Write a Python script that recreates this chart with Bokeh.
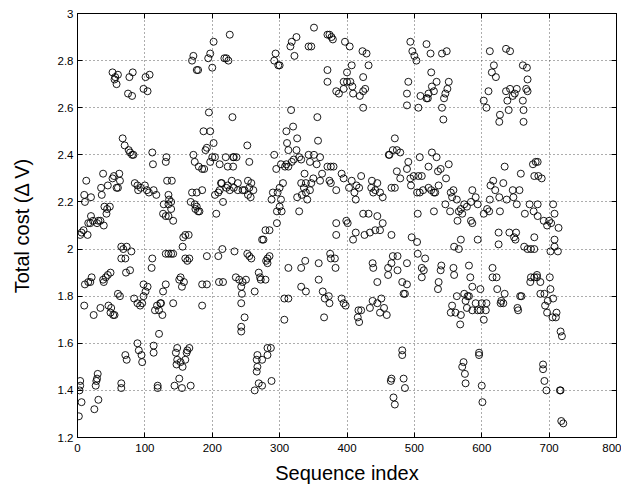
from bokeh.plotting import figure
from bokeh.models import Range1d, FixedTicker, LinearAxis, NumeralTickFormatter, CustomJSTickFormatter
from bokeh.embed import file_html
from bokeh.resources import INLINE

# ---- data (sequence index, total cost) ----
seq_index = [
    # 0 - 110
    52, 55, 56, 60, 58, 77, 82, 75, 81, 101, 107, 98, 104,
    67, 70, 76, 78, 81, 83,
    13, 38, 52, 54, 62, 63, 58, 60, 85, 89, 90, 94, 100, 103, 106,
    10, 11, 20, 35, 36, 45, 40, 44, 48, 43,
    4, 6, 9, 15, 16, 20, 23, 19, 29, 31, 34, 39,
    65, 68, 73, 80, 71, 65, 72, 78,
    11, 16, 19, 21, 38, 39, 42, 45, 49, 98, 104, 101, 60, 63, 84, 89, 93, 96, 98,
    10, 24, 34, 46, 50, 49, 53, 55,
    89, 91, 95, 96, 71, 73,
    4, 4, 3, 6, 2, 28, 27, 30, 29, 31, 25, 65, 65,
    # 110 - 250
    226, 202, 172, 170, 177, 179, 197, 194, 200, 218, 221, 224,
    195, 230, 187, 197, 190, 202, 192,
    111, 112, 132, 131, 172, 174, 180, 185, 188, 200, 197, 204, 211, 220, 223, 231, 232, 236, 231,
    133, 140, 117, 113, 128, 135, 139, 135, 136, 127, 131, 135, 139, 142, 170, 177, 185, 168, 174,
    177, 175, 181, 179, 206, 204, 209, 213, 214, 211, 216, 223, 226, 229, 232, 238, 238, 245, 248, 221,
    160, 157, 156, 165, 131, 135, 139, 142, 160, 163, 166, 192, 209, 215, 233, 111, 110,
    131, 127, 124, 118, 121, 123, 115, 126, 142, 153, 151, 155, 158, 185, 192, 185, 210, 216,
    235, 240, 245, 243, 244, 243, 248, 243, 243,
    121, 113, 113, 148, 146, 148, 147, 156, 153, 160, 163, 166, 162,
    119, 119, 144, 151, 155, 168,
    # 250 - 370
    351, 325, 318, 316, 322, 343, 347, 294, 292, 298, 300,
    317, 356, 310, 320, 326, 357, 311,
    252, 255,
    292, 313, 325, 329, 321, 318, 302, 310, 313, 295, 308, 332, 343, 351, 360, 345, 355,
    337, 350, 363, 360, 332, 339, 347, 336, 345, 339, 333, 326, 341, 329,
    305, 300, 297, 290, 288, 302, 300, 296, 303, 296, 279, 285,
    253, 258, 255, 261, 253, 257, 374, 376,
    274, 276, 252, 255, 258, 250, 263, 269, 271, 272, 279, 282, 285, 282, 280,
    307, 313, 307, 313, 332, 338, 332, 339, 358, 358, 364, 367, 373, 374, 366,
    282, 287, 282, 267, 266, 274, 267, 266, 269, 274, 263, 288,
    # 370 - 487
    371, 374, 377, 379, 397, 404, 423, 429,
    407, 400, 432, 424, 395, 400, 405, 384, 388, 395, 408, 409, 419, 424, 427, 424, 371, 371,
    471, 468, 474, 463, 479, 462,
    371, 376, 380,
    392, 395, 421, 407, 403, 414, 418, 437, 445, 436, 442, 449, 453, 439, 411, 413, 384, 466, 471, 479, 474,
    424, 432, 445, 453, 384, 399, 401,
    384, 413, 426, 434, 442, 449, 466, 409,
    375, 376, 382, 383, 438, 439, 468, 475, 461, 466, 475, 461, 482, 445, 484, 486,
    392, 395, 398, 417, 421, 416, 418, 434, 438, 445, 451, 449, 455, 459,
    482, 482, 466, 465, 484, 486, 469, 471,
    # 487 - 603
    494, 497, 500, 503, 518, 524, 541, 548,
    525, 491, 533, 551, 549, 546, 544, 541, 543, 526, 529, 521, 518, 520, 509, 506, 489, 489,
    508, 526, 533, 551, 539, 521, 535, 491, 489, 511, 494, 499, 506, 547,
    495, 504, 521, 525, 529, 536, 531, 513, 508, 554, 558, 556, 563, 586, 591, 584, 594, 574, 578,
    569, 566, 553, 546,
    571, 564, 584, 586, 505, 529,
    496, 569, 594, 504, 559, 566,
    505, 516, 511, 514, 511, 489, 489,
    540, 539, 536, 535, 558, 559, 581, 583, 586, 598,
    563, 574, 579, 576, 581, 556, 554, 561, 569, 578, 586, 591, 594, 600, 568, 598,
    596, 596, 573, 571, 575, 576, 600, 601,
    # 603 - 720
    612, 636, 642, 618, 615, 621, 661, 667, 668, 610, 636, 642, 646, 652, 649, 666, 668,
    603, 607, 638, 661, 640, 627, 626, 662, 662,
    680, 676, 683, 634, 658, 678, 684, 689,
    617, 632, 613, 620, 646, 656, 612, 626, 637, 647, 652, 671, 683, 706, 608, 611, 603, 627,
    664, 677, 708, 683, 692, 700, 703, 697, 714,
    625, 641, 651, 648, 650, 678, 708, 625,
    663, 668, 673, 678, 708, 702, 713,
    616, 616, 622, 623, 634, 629, 628, 632, 607, 606, 603, 657, 659, 653, 654,
    673, 678, 682, 672, 687, 682, 701, 702, 706, 687, 693, 698, 694, 697, 705, 710, 711, 717, 719,
    691, 691, 693, 696, 716, 717, 718, 721,
]

total_cost = [
    # 0 - 110
    2.75, 2.72, 2.73, 2.74, 2.70, 2.73, 2.75, 2.66, 2.65, 2.73, 2.74, 2.68, 2.67,
    2.47, 2.44, 2.42, 2.41, 2.40, 2.40,
    2.29, 2.32, 2.30, 2.31, 2.32, 2.29, 2.26, 2.26, 2.28, 2.27, 2.25, 2.26, 2.27, 2.25, 2.24,
    2.23, 2.20, 2.22, 2.26, 2.23, 2.27, 2.18, 2.17, 2.18, 2.15,
    2.06, 2.07, 2.08, 2.06, 2.11, 2.14, 2.12, 2.11, 2.11, 2.12, 2.12, 2.10,
    2.01, 2.00, 2.01, 1.99, 1.96, 1.96, 1.90, 1.91,
    1.85, 1.86, 1.86, 1.88, 1.87, 1.86, 1.88, 1.89, 1.90, 1.85, 1.84, 1.82, 1.81, 1.80, 1.79, 1.77, 1.76, 1.77, 1.80,
    1.76, 1.72, 1.75, 1.76, 1.75, 1.73, 1.72, 1.72,
    1.60, 1.57, 1.55, 1.52, 1.55, 1.53,
    1.44, 1.42, 1.40, 1.35, 1.29, 1.44, 1.42, 1.47, 1.45, 1.36, 1.32, 1.43, 1.41,
    # 110 - 250
    2.91, 2.88, 2.82, 2.80, 2.76, 2.76, 2.83, 2.81, 2.77, 2.81, 2.81, 2.80,
    2.58, 2.56, 2.50, 2.50, 2.42, 2.45, 2.43,
    2.41, 2.36, 2.39, 2.37, 2.40, 2.37, 2.35, 2.34, 2.34, 2.39, 2.37, 2.39, 2.36, 2.39, 2.35, 2.39, 2.39, 2.39, 2.35,
    2.29, 2.29, 2.23, 2.25, 2.19, 2.19, 2.20, 2.23, 2.21, 2.15, 2.14, 2.14, 2.17, 2.12, 2.24, 2.24, 2.25, 2.20, 2.19,
    2.18, 2.17, 2.16, 2.16, 2.15, 2.23, 2.24, 2.28, 2.28, 2.25, 2.20, 2.27, 2.25, 2.29, 2.26, 2.28, 2.25, 2.25, 2.25, 2.26,
    2.06, 2.05, 2.01, 2.06, 1.98, 1.98, 1.98, 1.98, 1.96, 1.95, 1.96, 1.97, 1.97, 2.00, 1.99, 1.96, 1.92,
    1.85, 1.82, 1.77, 1.76, 1.74, 1.77, 1.74, 1.72, 1.77, 1.88, 1.87, 1.84, 1.86, 1.85, 1.85, 1.76, 1.86, 1.86,
    1.88, 1.87, 1.86, 1.84, 1.81, 1.77, 1.71, 1.67, 1.65,
    1.64, 1.59, 1.56, 1.58, 1.56, 1.53, 1.51, 1.50, 1.52, 1.53, 1.57, 1.58, 1.56,
    1.42, 1.41, 1.42, 1.45, 1.41, 1.42,
    # 250 - 370
    2.94, 2.90, 2.88, 2.86, 2.82, 2.86, 2.86, 2.83, 2.80, 2.78, 2.78,
    2.59, 2.56, 2.50, 2.52, 2.47, 2.46, 2.45,
    2.44, 2.37,
    2.40, 2.42, 2.42, 2.39, 2.38, 2.37, 2.36, 2.36, 2.35, 2.34, 2.35, 2.38, 2.40, 2.40, 2.39, 2.37, 2.36,
    2.32, 2.30, 2.32, 2.29, 2.28, 2.28, 2.28, 2.26, 2.25, 2.24, 2.23, 2.22, 2.21, 2.16,
    2.28, 2.26, 2.24, 2.24, 2.21, 2.21, 2.18, 2.16, 2.16, 2.11, 2.08, 2.08,
    2.29, 2.28, 2.26, 2.25, 2.23, 2.22, 2.29, 2.28,
    2.04, 2.04, 1.98, 1.97, 1.96, 1.87, 1.82, 1.90, 1.88, 1.87, 1.87, 1.96, 1.97, 1.94, 1.95,
    1.79, 1.79, 1.70, 1.92, 1.92, 1.95, 1.84, 1.82, 1.94, 1.87, 1.82, 1.79, 1.80, 1.77, 1.71,
    1.58, 1.58, 1.55, 1.55, 1.53, 1.53, 1.50, 1.48, 1.43, 1.42, 1.40, 1.44,
    # 370 - 487
    2.91, 2.91, 2.90, 2.89, 2.88, 2.86, 2.84, 2.83,
    2.78, 2.75, 2.78, 2.73, 2.71, 2.71, 2.71, 2.67, 2.66, 2.68, 2.69, 2.66, 2.65, 2.67, 2.68, 2.60, 2.76, 2.71,
    2.47, 2.42, 2.42, 2.40, 2.41, 2.40,
    2.35, 2.35, 2.35,
    2.32, 2.30, 2.31, 2.29, 2.26, 2.27, 2.26, 2.29, 2.28, 2.26, 2.25, 2.24, 2.22, 2.24, 2.24, 2.21, 2.25, 2.26, 2.26, 2.30, 2.33,
    2.15, 2.15, 2.14, 2.11, 2.11, 2.12, 2.11,
    2.06, 2.07, 2.06, 2.07, 2.08, 2.08, 2.06, 2.04,
    1.98, 1.96, 1.96, 1.92, 1.94, 1.92, 1.97, 1.97, 1.92, 1.94, 1.91, 1.89, 1.86, 1.86, 1.81, 1.81,
    1.79, 1.77, 1.76, 1.74, 1.74, 1.71, 1.69, 1.75, 1.78, 1.77, 1.79, 1.73, 1.75, 1.72,
    1.57, 1.55, 1.45, 1.44, 1.45, 1.41, 1.37, 1.34,
    # 487 - 603
    2.88, 2.84, 2.82, 2.80, 2.87, 2.83, 2.83, 2.84,
    2.75, 2.71, 2.71, 2.71, 2.68, 2.66, 2.64, 2.60, 2.55, 2.69, 2.67, 2.66, 2.64, 2.64, 2.65, 2.60, 2.66, 2.61,
    2.39, 2.41, 2.39, 2.36, 2.34, 2.35, 2.33, 2.37, 2.34, 2.31, 2.30, 2.31, 2.31, 2.30,
    2.27, 2.24, 2.26, 2.25, 2.24, 2.27, 2.24, 2.25, 2.24, 2.24, 2.25, 2.22, 2.21, 2.25, 2.22, 2.20, 2.19, 2.19, 2.18,
    2.17, 2.16, 2.16, 2.19,
    2.15, 2.12, 2.12, 2.11, 2.15, 2.16,
    2.05, 2.04, 2.04, 2.03, 2.01, 2.00,
    1.98, 1.96, 1.92, 1.91, 1.88, 1.94, 1.85,
    1.93, 1.91, 1.86, 1.83, 1.92, 1.89, 1.93, 1.88, 1.84, 1.83,
    1.80, 1.81, 1.80, 1.78, 1.80, 1.76, 1.73, 1.73, 1.72, 1.75, 1.74, 1.77, 1.74, 1.77, 1.68, 1.74,
    1.56, 1.55, 1.52, 1.50, 1.47, 1.43, 1.42, 1.35,
    # 603 - 720
    2.84, 2.85, 2.84, 2.78, 2.75, 2.73, 2.78, 2.77, 2.72, 2.67, 2.67, 2.68, 2.65, 2.68, 2.66, 2.68, 2.67,
    2.63, 2.60, 2.63, 2.63, 2.59, 2.57, 2.54, 2.59, 2.54,
    2.37, 2.36, 2.37, 2.35, 2.32, 2.31, 2.31, 2.30,
    2.29, 2.28, 2.27, 2.25, 2.25, 2.25, 2.21, 2.22, 2.21, 2.22, 2.19, 2.19, 2.19, 2.19, 2.17, 2.16, 2.15, 2.16,
    2.15, 2.16, 2.15, 2.14, 2.12, 2.12, 2.11, 2.10, 2.09,
    2.07, 2.07, 2.07, 2.05, 2.04, 2.05, 2.04, 2.02,
    2.01, 2.00, 2.00, 2.00, 2.01, 1.99, 1.99,
    1.92, 1.88, 1.88, 1.83, 1.81, 1.78, 1.77, 1.77, 1.77, 1.74, 1.70, 1.80, 1.80, 1.75, 1.74,
    1.88, 1.88, 1.88, 1.86, 1.86, 1.89, 1.88, 1.83, 1.79, 1.81, 1.81, 1.78, 1.76, 1.73, 1.71, 1.71, 1.73, 1.65, 1.63,
    1.51, 1.49, 1.44, 1.40, 1.40, 1.40, 1.27, 1.26,
]

x_ticks = [0, 100, 200, 300, 400, 500, 600, 700, 800]
y_ticks = [1.2, 1.4, 1.6, 1.8, 2.0, 2.2, 2.4, 2.6, 2.8, 3.0]

FONT = "Liberation Sans"

p = figure(width=621, height=496, output_backend="svg", toolbar_location=None,
           x_range=Range1d(0, 800), y_range=Range1d(1.2, 3.0),
           min_border_left=77, min_border_right=5, min_border_top=13, min_border_bottom=59,
           x_axis_label="Sequence index", y_axis_label="Total cost (Δ V)")
p.background_fill_color = "white"
p.border_fill_color = "white"
p.outline_line_color = "black"
p.outline_line_width = 1

# grids
for g, t in ((p.xgrid, x_ticks), (p.ygrid, y_ticks)):
    g.ticker = FixedTicker(ticks=t)
    g.grid_line_color = "#333333"
    g.grid_line_dash = "1 3"
    g.grid_line_width = 1
    g.grid_line_alpha = 0.8

# main axes
xa = p.xaxis[0]
ya = p.yaxis[0]
xa.ticker = FixedTicker(ticks=x_ticks)
ya.ticker = FixedTicker(ticks=y_ticks)
ya.formatter = NumeralTickFormatter(format="0.[0]")
for ax in (xa, ya):
    ax.major_tick_in = 5
    ax.major_tick_out = 0
    ax.minor_tick_in = 0
    ax.minor_tick_out = 0
    ax.axis_line_color = "black"
    ax.major_tick_line_color = "black"
    ax.major_label_text_font = FONT
    ax.major_label_text_font_size = "11.5px"
    ax.major_label_text_color = "black"
    ax.axis_label_text_font = FONT
    ax.axis_label_text_font_size = "20px"
    ax.axis_label_text_font_style = "normal"
    ax.axis_label_text_color = "black"
xa.major_label_standoff = 6
xa.axis_label_standoff = 7
ya.major_label_standoff = 4
ya.axis_label_standoff = 22

# mirrored ticks on top and right
blank = CustomJSTickFormatter(code="return ''")
top = LinearAxis(ticker=FixedTicker(ticks=x_ticks), formatter=blank)
right = LinearAxis(ticker=FixedTicker(ticks=y_ticks), formatter=blank)
for ax in (top, right):
    ax.major_tick_in = 5
    ax.major_tick_out = 0
    ax.minor_tick_in = 0
    ax.minor_tick_out = 0
    ax.major_label_standoff = 0
    ax.axis_line_color = "black"
    ax.major_tick_line_color = "black"
    ax.major_label_text_font_size = "1px"
p.add_layout(top, "above")
p.add_layout(right, "right")

p.scatter(seq_index, total_cost, marker="circle", size=7,
          fill_color=None, line_color="black", line_width=0.9)

open("out.html", "w").write(file_html(p, INLINE))
